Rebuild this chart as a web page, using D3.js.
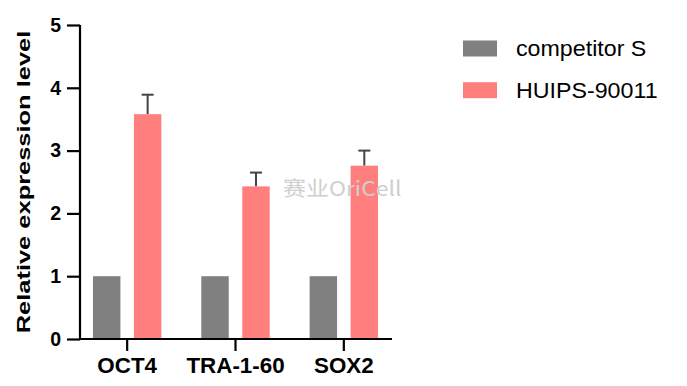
<!DOCTYPE html>
<meta charset="utf-8">
<script src="https://d3js.org/d3.v7.min.js"></script>
<style>
  body { margin: 0; background: #fff; }
  svg text { font-family: Arial, "Liberation Sans", sans-serif; }
</style>
<div id="chart"></div>
<script>
// data
var genes = ["OCT4", "TRA-1-60", "SOX2"];
var seriesNames = ["competitor S", "HUIPS-90011"];
var competitor = [1, 1, 1];
var huips = [3.58, 2.43, 2.76];
var huipsErr = [0.31, 0.22, 0.24];
var yTicks = [0, 1, 2, 3, 4, 5];
var colors = ["#808080", "#ff7f7f"];

var W = 687, H = 386;
var svg = d3.select("#chart").append("svg")
  .attr("width", W).attr("height", H);

var x0 = 80, x1 = 392, yTop = 25, yBot = 339;

// stretch a text along its own direction (the source font is wider)
function widen(sel, k) {
  sel.each(function() {
    var n = this.getComputedTextLength();
    d3.select(this).attr("textLength", n * k).attr("lengthAdjust", "spacingAndGlyphs");
  });
}

// x: one band per gene
var x = d3.scaleBand().domain(genes).range([73, 398]).padding(0);
var y = d3.scaleLinear().domain([0, 5]).range([yBot, yTop]);
var sub = d3.scaleBand().domain(seriesNames).range([-34.2, 34.2]).paddingInner(0.33);

var data = genes.map(function(g, i) {
  return {gene: g, vals: [competitor[i], huips[i]], err: [0, huipsErr[i]]};
});

var groups = svg.append("g").selectAll("g")
  .data(data).enter().append("g")
  .attr("transform", function(d) { return "translate(" + (x(d.gene) + x.bandwidth() / 2) + ",0)"; });

// error bars (drawn behind bars)
groups.each(function(d) {
  var g = d3.select(this);
  d.vals.forEach(function(v, j) {
    if (!d.err[j]) return;
    var cx = sub(seriesNames[j]) + sub.bandwidth() / 2;
    g.append("line").attr("x1", cx).attr("x2", cx)
      .attr("y1", y(v)).attr("y2", y(v + d.err[j]))
      .attr("stroke", "#444").attr("stroke-width", 2);
    g.append("line").attr("x1", cx - 6).attr("x2", cx + 6)
      .attr("y1", y(v + d.err[j])).attr("y2", y(v + d.err[j]))
      .attr("stroke", "#444").attr("stroke-width", 2);
  });
});

groups.selectAll("rect")
  .data(function(d) { return d.vals.map(function(v, j) { return {key: seriesNames[j], value: v, c: colors[j]}; }); })
  .enter().append("rect")
  .attr("x", function(d) { return sub(d.key); })
  .attr("width", sub.bandwidth())
  .attr("y", function(d) { return y(d.value); })
  .attr("height", function(d) { return yBot - y(d.value); })
  .attr("fill", function(d) { return d.c; });

// y axis
var yAxis = svg.append("g")
  .attr("transform", "translate(" + x0 + ",0)")
  .call(d3.axisLeft(y).tickValues(yTicks).tickFormat(d3.format("d")).tickSize(13).tickPadding(6));
yAxis.select(".domain").attr("stroke", "#000").attr("stroke-width", 2.2)
  .attr("d", "M0," + yTop + "V" + yBot);
yAxis.selectAll(".tick line").attr("stroke", "#000").attr("stroke-width", 2.2);
yAxis.selectAll(".tick text").attr("fill", "#000")
  .style("font-size", "19.5px").style("font-weight", "bold");

// x axis
var xAxis = svg.append("g")
  .attr("transform", "translate(0," + yBot + ")")
  .call(d3.axisBottom(x).tickSize(12).tickPadding(7));
xAxis.select(".domain").attr("stroke", "#000").attr("stroke-width", 2.2)
  .attr("d", "M" + (x0 - 1) + ",0H" + x1);
xAxis.selectAll(".tick line").attr("stroke", "#000").attr("stroke-width", 2.2);
xAxis.selectAll(".tick text").attr("fill", "#000")
  .style("font-size", "21.5px").style("font-weight", "bold");
widen(xAxis.selectAll(".tick text"), 1.04);

// y title
var yTitle = svg.append("text")
  .attr("transform", "translate(30," + (yTop + yBot) / 2 + ") rotate(-90)")
  .style("text-anchor", "middle")
  .style("font-size", "18.5px")
  .style("font-weight", "bold")
  .text("Relative expression level");
widen(yTitle, 1.375);

// legend
var leg = svg.append("g");
seriesNames.forEach(function(s, i) {
  leg.append("rect").attr("x", 463).attr("y", 40.5 + i * 41.7)
    .attr("width", 34).attr("height", 16).attr("fill", colors[i]);
  var t = leg.append("text").attr("x", 516).attr("y", 48.5 + i * 41.7)
    .attr("dy", "0.36em")
    .style("font-size", "21.5px")
    .text(s);
  widen(t, 1.08);
});

// watermark
var wm = svg.append("text")
  .attr("x", 283).attr("y", 196)
  .style("font-size", "20.5px")
  .style("font-family", "'Noto Sans CJK SC', Arial, sans-serif")
  .attr("fill", "#cfcfcf")
  .text("赛业OriCell");
widen(wm, 1.12);
</script>
